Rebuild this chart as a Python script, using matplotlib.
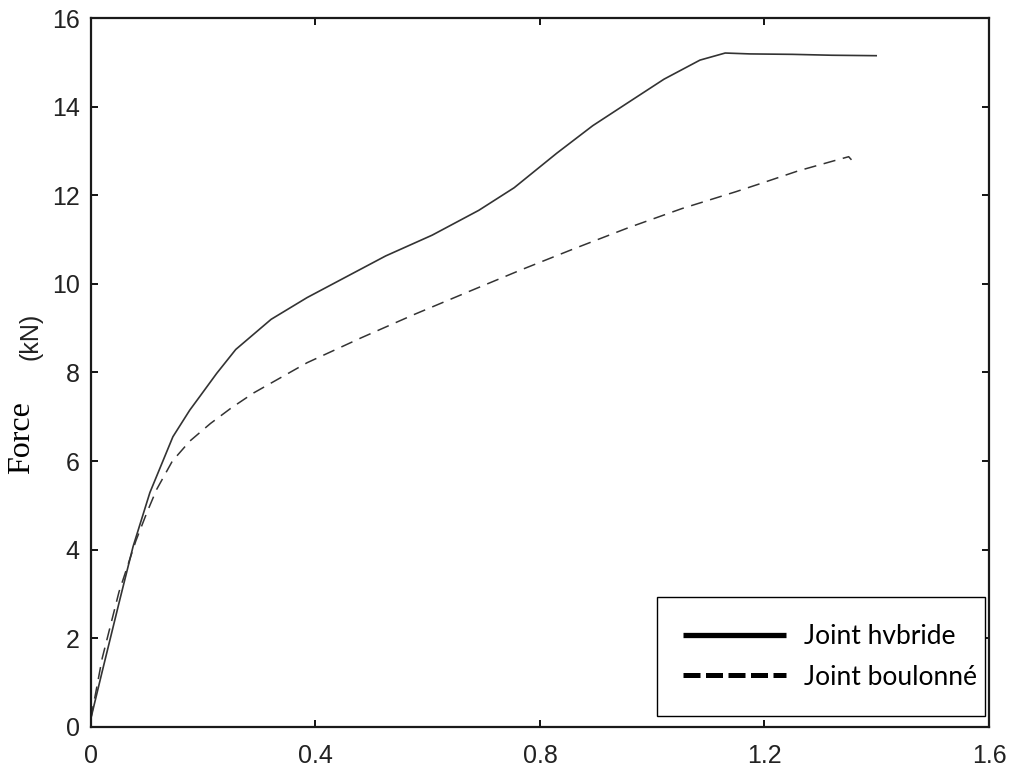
# -*- coding: utf-8 -*-

import matplotlib
matplotlib.use('Agg')
import matplotlib.pyplot as plt
from matplotlib.lines import Line2D

#----- data
x_hybride = [0, 0.02, 0.05, 0.075, 0.105, 0.146, 0.176, 0.194, 0.224, 0.258, 0.321, 0.385,
             0.449, 0.525, 0.608, 0.691, 0.754, 0.83, 0.894, 0.958, 1.021, 1.085, 1.13,
             1.174, 1.25, 1.32, 1.399]
y_hybride = [0.2, 1.25, 2.8, 4.07, 5.29, 6.55, 7.15, 7.46, 7.98, 8.52, 9.2, 9.69,
             10.12, 10.63, 11.1, 11.66, 12.17, 12.95, 13.57, 14.1, 14.62, 15.05, 15.21,
             15.19, 15.18, 15.16, 15.15]

x_boulonne = [0, 0.02, 0.05, 0.08, 0.1, 0.117, 0.145, 0.176, 0.213, 0.25, 0.29, 0.385,
              0.481, 0.576, 0.672, 0.767, 0.862, 0.958, 1.053, 1.149, 1.192, 1.26, 1.33,
              1.35, 1.355]
y_boulonne = [0.2, 1.55, 3.05, 4.2, 4.85, 5.36, 6.0, 6.45, 6.85, 7.2, 7.54, 8.22,
              8.78, 9.31, 9.82, 10.32, 10.8, 11.27, 11.7, 12.08, 12.26, 12.55, 12.8,
              12.87, 12.8]

xticks = [0, 0.4, 0.8, 1.2, 1.6]
xtick_labels = ['0', '0.4', '0.8', '1.2', '1.6']
yticks = [0, 2, 4, 6, 8, 10, 12, 14, 16]
ytick_labels = ['0', '2', '4', '6', '8', '10', '12', '14', '16']

labels = ['Joint hvbride', 'Joint boulonné']

#-----
fig = plt.figure(figsize=(10.22, 7.67), dpi=100)
ax = fig.add_axes([0.089, 0.0522, 0.8787, 0.9243])

ax.plot(x_hybride, y_hybride, color='#333333', lw=1.2)
ax.plot(x_boulonne, y_boulonne, color='#333333', lw=1.1, dashes=(8, 5))

ax.set_xlim(0, 1.6)
ax.set_ylim(0, 16)
ax.set_xticks(xticks)
ax.set_xticklabels(xtick_labels)
ax.set_yticks(yticks)
ax.set_yticklabels(ytick_labels)

ax.tick_params(direction='in', length=5, width=1.3, top=True, right=True,
               labelsize=18, labelcolor='#222222',
               labelfontfamily=['Liberation Sans', 'DejaVu Sans'])
ax.tick_params(axis='y', pad=8)
ax.tick_params(axis='x', pad=12)
for sp in ax.spines.values():
    sp.set_linewidth(1.6)
    sp.set_color('#1a1a1a')

# y label: serif "Force" and sans "(kN)"
ax.text(-0.0768, 0.408, 'Force', rotation=90, ha='center', va='center',
        family=['Liberation Serif', 'DejaVu Serif'], fontsize=23, transform=ax.transAxes)
ax.text(-0.0668, 0.551, '(kN)', rotation=90, ha='center', va='center',
        family=['Liberation Sans', 'DejaVu Sans'], fontsize=18, color='#222222',
        transform=ax.transAxes)

#----- legend
handles = [Line2D([], [], color='black', lw=3.8, solid_capstyle='butt'),
           Line2D([], [], color='black', lw=3.6, dashes=(3.4, 1.1), dash_capstyle='butt')]
leg = ax.legend(handles, labels, loc='lower left', bbox_to_anchor=(0.63, 0.0155, 0.3655, 0.171),
                mode='expand', borderaxespad=0, fancybox=False, framealpha=1, edgecolor='black',
                prop={'family': 'Lato', 'size': 19}, handlelength=3.9, handletextpad=0.7,
                borderpad=1.0, labelspacing=0.6)
leg.get_frame().set_linewidth(1.0)

plt.savefig('out.png', dpi=100)
